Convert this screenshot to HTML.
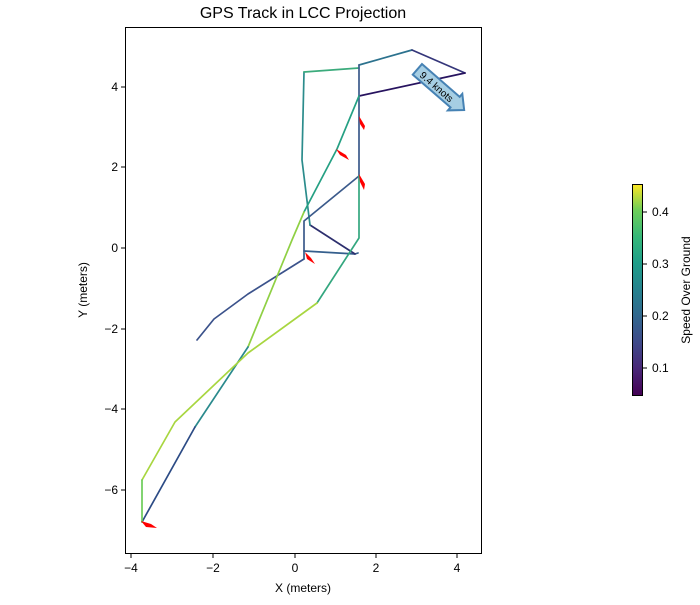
<!DOCTYPE html>
<html><head><meta charset="utf-8"><style>
body{margin:0;background:#fff;}
svg text{font-family:"Liberation Sans","DejaVu Sans",sans-serif;}
</style></head><body>
<svg width="700" height="600" viewBox="0 0 700 600" xmlns="http://www.w3.org/2000/svg">
<defs>
<linearGradient id="vir" x1="0" y1="1" x2="0" y2="0">
<stop offset="0" stop-color="#440154"/><stop offset="0.13" stop-color="#482878"/>
<stop offset="0.25" stop-color="#3e4989"/><stop offset="0.38" stop-color="#31688e"/>
<stop offset="0.5" stop-color="#26828e"/><stop offset="0.63" stop-color="#1f9e89"/>
<stop offset="0.75" stop-color="#35b779"/><stop offset="0.88" stop-color="#6ece58"/>
<stop offset="1" stop-color="#fde725"/></linearGradient>
</defs>
<text x="303" y="18" font-size="16" text-anchor="middle">GPS Track in LCC Projection</text>
<g fill="none" stroke-width="1.7" stroke-linejoin="round" stroke-linecap="round">
<polyline points="197,340 214,319 248,294 304,259" stroke="#3b528b"/>
<polyline points="304,259 304,251 355,254 358,253" stroke="#355f8d"/>
<polyline points="355,254 310,225" stroke="#2d2f6e"/>
<polyline points="310,225 302,160 304,72" stroke="#2b8c8c"/>
<polyline points="304,72 359,68" stroke="#3bab7c"/>
<polyline points="359,65 412,50" stroke="#2c728e"/>
<polyline points="412,50 465,73" stroke="#35367a"/>
<polyline points="465,73 359,96" stroke="#27135f"/>
<polyline points="359,65 359,176" stroke="#3b5a8b"/>
<polyline points="359,176 304,221 304,251" stroke="#3b5a8b"/>
<polyline points="359,96 337,149 304,212" stroke="#25a083"/>
<polyline points="304,212 292,240 248,347" stroke="#8fd044"/>
<polyline points="248,347 195,427" stroke="#2a8a8d"/>
<polyline points="195,427 142,522" stroke="#2c4b85"/>
<polyline points="359,176 359,238 317,303" stroke="#34a77f"/>
<polyline points="317,303 248,353 175,422 142,480" stroke="#a8d640"/>
<polyline points="142,480 142,522" stroke="#6ccc5a"/>
</g>
<g fill="#f00">
<polygon points="359,116 365,126 364,130 360,124"/>
<polygon points="336,149 346,155 349,160 340,155"/>
<polygon points="359,174 365,184 364,190 360,182"/>
<polygon points="305,252 311,258 315,264 307,259"/>
<polygon points="141,521 151,524 157,528 146,527"/>
</g>
<g transform="translate(440,89) rotate(41)">
<path d="M-30,-7 L20,-7 L20,-11 L32,0 L20,11 L20,7 L-30,7 Z" fill="#a6cee3" stroke="#4682b4" stroke-width="2"/>
<text x="-4" y="4" font-size="10" text-anchor="middle">9.4 knots</text>
</g>
<rect x="125.5" y="27.5" width="356" height="526" fill="none" stroke="#000" stroke-width="1"/>
<g stroke="#000" stroke-width="1">
<line x1="131" y1="554" x2="131" y2="558"/><line x1="213" y1="554" x2="213" y2="558"/>
<line x1="295" y1="554" x2="295" y2="558"/><line x1="376" y1="554" x2="376" y2="558"/>
<line x1="457" y1="554" x2="457" y2="558"/>
<line x1="121" y1="87" x2="125" y2="87"/><line x1="121" y1="167" x2="125" y2="167"/>
<line x1="121" y1="248" x2="125" y2="248"/><line x1="121" y1="329" x2="125" y2="329"/>
<line x1="121" y1="409" x2="125" y2="409"/><line x1="121" y1="490" x2="125" y2="490"/>
</g>
<g font-size="12" text-anchor="middle">
<text x="131" y="572">−4</text><text x="213" y="572">−2</text><text x="295" y="572">0</text>
<text x="376" y="572">2</text><text x="457" y="572">4</text>
<text x="303" y="592">X (meters)</text>
</g>
<g font-size="12" text-anchor="end">
<text x="118" y="91">4</text><text x="118" y="171">2</text><text x="118" y="252">0</text>
<text x="118" y="333">−2</text><text x="118" y="413">−4</text><text x="118" y="494">−6</text>
</g>
<text transform="translate(87,290) rotate(-90)" font-size="12" text-anchor="middle">Y (meters)</text>
<rect x="632.5" y="184.5" width="10" height="211" fill="url(#vir)" stroke="#000" stroke-width="1"/>
<g stroke="#000"><line x1="643" y1="212" x2="647" y2="212"/><line x1="643" y1="264" x2="647" y2="264"/>
<line x1="643" y1="316" x2="647" y2="316"/><line x1="643" y1="368" x2="647" y2="368"/></g>
<g font-size="12"><text x="652" y="216">0.4</text><text x="652" y="268">0.3</text>
<text x="652" y="320">0.2</text><text x="652" y="372">0.1</text></g>
<text transform="translate(690,290) rotate(-90)" font-size="12" text-anchor="middle">Speed Over Ground</text>
</svg>
</body></html>
